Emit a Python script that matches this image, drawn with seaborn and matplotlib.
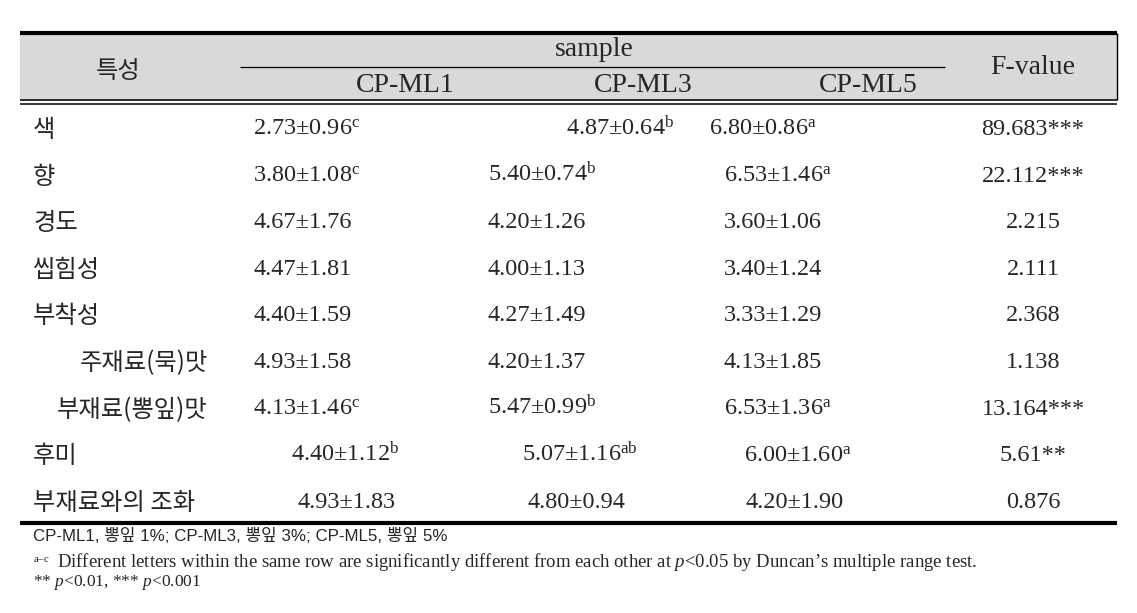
import matplotlib
matplotlib.use('Agg')
import matplotlib.pyplot as plt
import seaborn as sns
import numpy as np

# ---------------------------------------------------------
# data
# ---------------------------------------------------------
attributes = ['색', '향', '경도', '씹힘성', '부착성',
              '주재료(묵)맛', '부재료(뽕잎)맛', '후미', '부재료와의 조화']
samples = ['CP-ML1', 'CP-ML3', 'CP-ML5']

ml1_mean = ['2.73', '3.80', '4.67', '4.47', '4.40', '4.93', '4.13', '4.40', '4.93']
ml1_sd = ['0.96', '1.08', '1.76', '1.81', '1.59', '1.58', '1.46', '1.12', '1.83']
ml1_sig = ['c', 'c', '', '', '', '', 'c', 'b', '']

ml3_mean = ['4.87', '5.40', '4.20', '4.00', '4.27', '4.20', '5.47', '5.07', '4.80']
ml3_sd = ['0.64', '0.74', '1.26', '1.13', '1.49', '1.37', '0.99', '1.16', '0.94']
ml3_sig = ['b', 'b', '', '', '', '', 'b', 'ab', '']

ml5_mean = ['6.80', '6.53', '3.60', '3.40', '3.33', '4.13', '6.53', '6.00', '4.20']
ml5_sd = ['0.86', '1.46', '1.06', '1.24', '1.29', '1.85', '1.36', '1.60', '1.90']
ml5_sig = ['a', 'a', '', '', '', '', 'a', 'a', '']

f_values = ['89.683', '22.112', '2.215', '2.111', '2.368', '1.138', '13.164', '5.61', '0.876']
f_sig = ['***', '***', '', '', '', '', '***', '**', '']

footnotes = ['CP-ML1, 뽕잎 1%; CP-ML3, 뽕잎 3%; CP-ML5, 뽕잎 5%',
             'Different letters within the same row are significantly different '
             'from each other at $\\mathit{p}$<0.05 by Duncan\u2019s multiple range test.',
             '** $\\mathit{p}$<0.01, *** $\\mathit{p}$<0.001']

# ---------------------------------------------------------
# layout (pixel coordinates of the 1137x613 canvas)
# ---------------------------------------------------------
col_x = [[253, 566, 709], [253, 488, 724], [253, 488, 724], [253, 488, 724],
         [253, 488, 724], [253, 488, 724], [253, 488, 724], [291, 522, 744],
         [297, 527, 745]]
label_right = {5: 208, 6: 208}
row_y0, row_dy = 126, 46.6
base_off = 9
f_x = 1033

sns.set_style('white')
plt.rcParams['font.family'] = ['Liberation Serif', 'Noto Sans CJK KR']
plt.rcParams['mathtext.fontset'] = 'custom'
plt.rcParams['mathtext.rm'] = 'Liberation Serif'
plt.rcParams['mathtext.it'] = 'Liberation Serif:italic'

fig = plt.figure(figsize=(11.37, 6.13), dpi=100)
ax = fig.add_axes([0, 0, 1, 1])
ax.set_xlim(0, 1137)
ax.set_ylim(613, 0)
ax.axis('off')

# header band and rules
ax.axhspan(33, 100, xmin=20 / 1137, xmax=1117 / 1137, color='#d9d9d9', zorder=0)
ax.hlines(33, 20, 1117, color='black', lw=3)
ax.hlines([100, 103.5], 20, 1117, color='black', lw=1.1)
ax.vlines(1117, 33, 100, color='black', lw=1.0)
ax.hlines(67, 240, 945, color='black', lw=0.9)
ax.hlines(523, 20, 1117, color='black', lw=3)

kr = ['Noto Sans CJK KR', 'DejaVu Sans']
ax.text(118, 71, '특성', family=kr, fontsize=17.5, ha='center', va='center')
ax.text(594, 50, 'sample', fontsize=20, ha='center', va='center')
for s, cx in zip(samples, [405, 643, 868]):
    ax.text(cx, 86, s, fontsize=20, ha='center', va='center')
ax.text(f_x, 68, 'F-value', fontsize=20, ha='center', va='center')

groups = [(ml1_mean, ml1_sd, ml1_sig), (ml3_mean, ml3_sd, ml3_sig),
          (ml5_mean, ml5_sd, ml5_sig)]
for i, attr in enumerate(attributes):
    y = row_y0 + i * row_dy
    if i in label_right:
        ax.text(label_right[i], y + 4, attr, family=kr, fontsize=17.5,
                ha='right', va='center')
    else:
        ax.text(33, y + 4, attr, family=kr, fontsize=17.5, ha='left', va='center')
    for j, (m, sd, sig) in enumerate(groups):
        txt = m[i] + '±' + sd[i]
        if sig[i]:
            txt += '$^{\\mathrm{' + sig[i] + '}}$'
        ax.text(col_x[i][j], y + base_off, txt, fontsize=17.5,
                ha='left', va='baseline')
    ax.text(f_x, y + base_off, f_values[i] + f_sig[i], fontsize=17.5,
            ha='center', va='baseline')

# footnotes
ax.text(33, 536, footnotes[0], family=['Liberation Sans', 'Noto Sans CJK KR'],
        fontsize=12.2, ha='left', va='center')
ax.text(33, 566, '$^{\\mathrm{a\u2013c}}$', fontsize=11, ha='left', va='baseline')
ax.text(57, 567, footnotes[1], fontsize=13.5, ha='left', va='baseline')
ax.text(33, 586, footnotes[2], fontsize=12.5, ha='left', va='baseline')

fig.savefig('out.png', dpi=100)
plt.close(fig)
